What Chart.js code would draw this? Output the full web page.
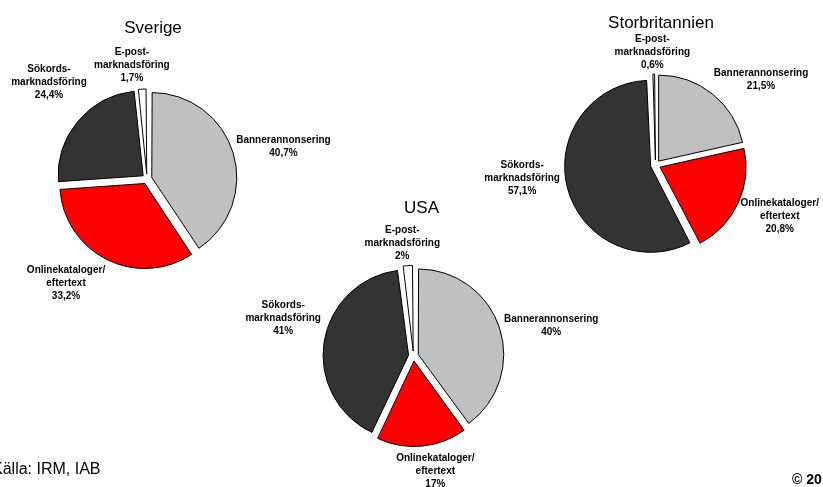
<!DOCTYPE html>
<html>
<head>
<meta charset="utf-8">
<script src="https://cdn.jsdelivr.net/npm/chart.js@4.4.1/dist/chart.umd.min.js"></script>
<style>
  html, body { margin: 0; padding: 0; background: #fff; }
  #wrap { position: relative; width: 823px; height: 487px; overflow: hidden; font-family: "Liberation Sans", Arial, sans-serif; color: #000; }
  #wrap canvas { position: absolute; left: 0; top: 0; }
  .note { position: absolute; white-space: nowrap; }
</style>
</head>
<body>
<div id="wrap">
  <canvas id="sverige" width="823" height="487"></canvas>
  <canvas id="usa" width="823" height="487"></canvas>
  <canvas id="uk" width="823" height="487"></canvas>
  <div class="note" style="left:-8px;top:461px;font-size:16px;line-height:16px">Källa: IRM, IAB</div>
  <div class="note" style="left:792px;top:472px;font-size:14px;line-height:14px;font-weight:bold">© 20</div>
</div>
<script>
// Share of online ad spend per channel (%)
const categories = ['Bannerannonsering', 'Onlinekataloger/\neftertext', 'Sökords-\nmarknadsföring', 'E-post-\nmarknadsföring'];
const sverige = [40.7, 33.2, 24.4, 1.7];
const usa = [40, 17, 41, 2];
const storbritannien = [21.5, 20.8, 57.1, 0.6];
const sliceColors = ['#c0c0c0', '#ff0000', '#333333', '#ffffff'];

const W = 823, H = 487;
const FONT = '"Liberation Sans", Arial, sans-serif';

// where each pie sits on the page, plus small hand tweaks for its labels
const pies = [
  { id: 'sverige', title: 'Sverige', values: sverige, cx: 147, cy: 179, r: 85, titleAt: [6, -146],
    nudges: [[2, 8], [-28, -3], [-1, -15], [-9, 1]] },
  { id: 'usa', title: 'USA', values: usa, cx: 413.5, cy: 356, r: 85.5, titleAt: [8, -143],
    nudges: [[4, 13], [11, 1], [1, -17], [-4, 2]] },
  { id: 'uk', title: 'Storbritannien', values: storbritannien, cx: 655.5, cy: 165, r: 86, titleAt: [5.5, -137],
    nudges: [[26, 14], [4, -4], [-5, -21], [-1, 3]] }
];

const pct = v => String(v).replace('.', ',') + '%';

// Chart.js enlarges exploded slices by part of their offset; keep one radius for all
const evenRadius = {
  id: 'evenRadius',
  beforeDatasetDraw(chart, args) {
    const r = args.meta.controller.outerRadius;
    args.meta.data.forEach(arc => {
      const shift = (arc.options.offset || 0) / 4;
      arc.outerRadius = r - shift * (1 - Math.sin(Math.min(Math.PI, arc.circumference)));
    });
  }
};

// Heading and outside labels (name + value) for every slice
const sliceLabels = {
  id: 'sliceLabels',
  afterDatasetsDraw(chart, args, opts) {
    const { ctx } = chart;
    const meta = chart.getDatasetMeta(0);
    const radius = meta.controller.outerRadius;
    const values = chart.data.datasets[0].data;
    const lh = opts.lineHeight;
    ctx.save();
    ctx.fillStyle = '#000';
    ctx.textAlign = 'center';
    ctx.textBaseline = 'middle';
    ctx.font = 'bold 10px ' + FONT;
    meta.data.forEach((arc, i) => {
      const lines = chart.data.labels[i].split('\n').concat(pct(values[i]));
      const w = Math.max(...lines.map(l => ctx.measureText(l).width));
      const h = lines.length * lh;
      const mid = (arc.startAngle + arc.endAngle) / 2;
      const ux = Math.cos(mid), uy = Math.sin(mid);
      const reach = Math.hypot(ux * w / 2, uy * h / 2);
      const dist = radius + (arc.options.offset || 0) / 4 + opts.gap + reach;
      const [nx, ny] = opts.nudges[i] || [0, 0];
      const x = arc.x + ux * dist + nx;
      const top = arc.y + uy * dist + ny - h / 2;
      lines.forEach((line, j) => ctx.fillText(line, x, top + lh * (j + 0.5)));
    });

    const cx = (chart.chartArea.left + chart.chartArea.right) / 2;
    const cy = (chart.chartArea.top + chart.chartArea.bottom) / 2;
    ctx.font = '17px ' + FONT;
    ctx.textBaseline = 'alphabetic';
    ctx.fillText(opts.title, cx + opts.titleAt[0], cy + opts.titleAt[1]);
    ctx.restore();
  }
};

pies.forEach(p => {
  new Chart(document.getElementById(p.id), {
    type: 'pie',
    data: {
      labels: categories,
      datasets: [{
        data: p.values,
        backgroundColor: sliceColors,
        borderColor: '#000',
        borderWidth: 1,
        offset: 20
      }]
    },
    options: {
      responsive: false,
      animation: false,
      events: [],
      radius: p.r,
      layout: {
        padding: { left: p.cx - 100, right: W - p.cx - 100, top: p.cy - 100, bottom: H - p.cy - 100 }
      },
      plugins: {
        legend: { display: false },
        tooltip: { enabled: false },
        sliceLabels: { title: p.title, titleAt: p.titleAt, nudges: p.nudges, gap: 5, lineHeight: 13 }
      }
    },
    plugins: [evenRadius, sliceLabels]
  });
});
</script>
</body>
</html>
